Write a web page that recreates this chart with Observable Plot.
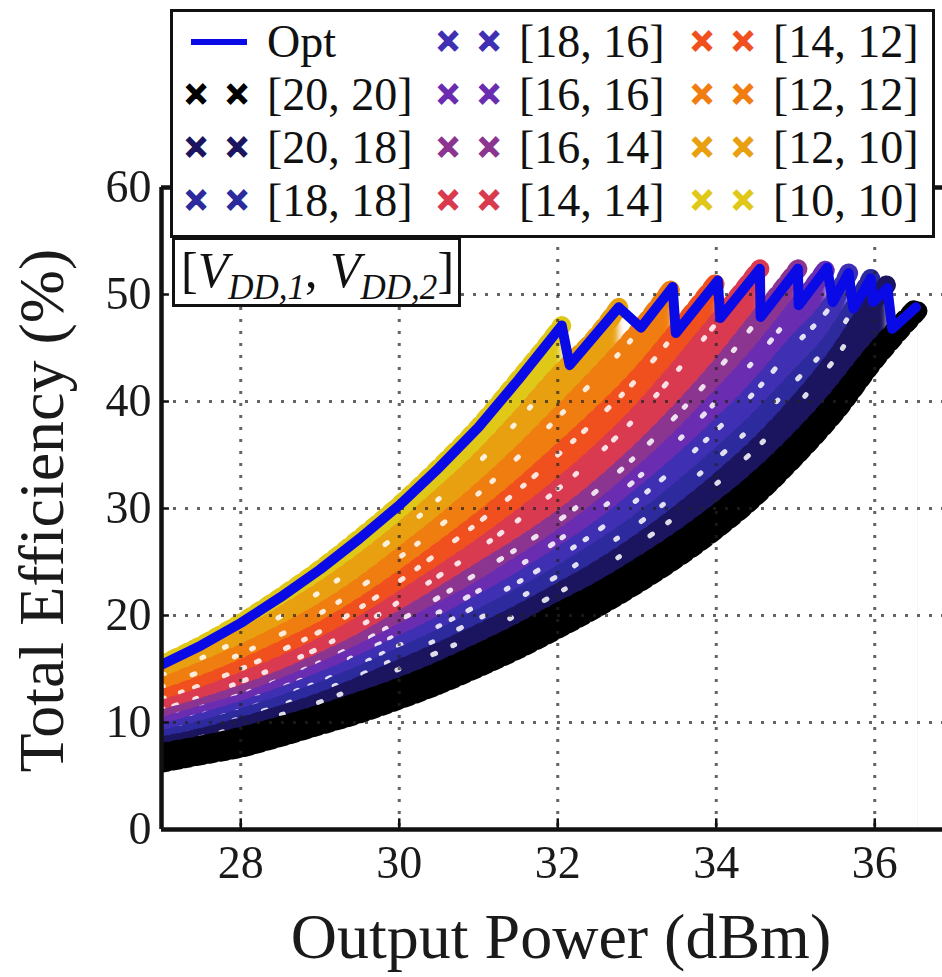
<!DOCTYPE html>
<html><head><meta charset="utf-8">
<script src="https://cdn.jsdelivr.net/npm/d3@7"></script>
<script src="https://cdn.jsdelivr.net/npm/@observablehq/plot@0.6"></script>
<style>
html,body{margin:0;padding:0;background:#fff}
#wrap{position:relative;width:942px;height:977px;overflow:hidden;filter:blur(0.6px);font-family:"Liberation Serif",serif;color:#111}
#legend{position:absolute;left:170px;top:9px;width:765px;height:229px;box-sizing:border-box;border:3.5px solid #111;background:#fff;
 display:grid;grid-auto-flow:column;grid-template-rows:repeat(4,53px);grid-template-columns:252px 254px 1fr;padding:3px 0 0 12px;font-size:46px;line-height:53px}
.cell{display:flex;align-items:center;white-space:nowrap}
.hd{width:82px;flex:none;display:flex;align-items:center;gap:19px;font:bold 38px "Liberation Sans",sans-serif;-webkit-text-stroke:1.6px currentColor}
.hd i{font-style:normal;width:22px;text-align:center;display:block}
.ln{display:block;width:56px;height:6px;background:#0a0ae6;margin-left:6px}
#vdd{position:absolute;left:172px;top:237px;width:289px;height:70px;box-sizing:border-box;border:3.5px solid #111;background:#fff;font-size:50px;line-height:60px;padding-left:6px;white-space:nowrap}
#vdd em sub{font-size:35px;line-height:0;vertical-align:-12px}
.band{filter:blur(3px)}
</style></head><body><div id="wrap"></div>
<script>
const xGrid = [27,27.5,28,28.5,29,29.5,30,30.5,31,31.5,32,32.5,33,33.5,34,34.5,35,35.5,36];
const names  = ["[20, 20]","[20, 18]","[18, 18]","[18, 16]","[16, 16]","[16, 14]","[14, 14]","[14, 12]","[12, 12]","[12, 10]","[10, 10]"];
const colors = ["#000000","#1b1560","#2c2a9c","#3f2fb2","#6a2cb0","#8c3590","#d93a50","#f0501e","#f07d10","#e8a010","#e0c818"];
const y2020 = [7.2,7.9,8.7,9.7,10.8,12,13.3,14.8,16.5,18.3,20.3,22.2,24.4,26.8,29.5,32.5,36,40,44.6,48.8];
const y2018 = [7.8,8.6,9.6,10.7,11.9,13.4,15,16.6,18.3,20.1,22.1,24.2,26.6,29.3,32.3,35.6,39.5,44,49.5,51];
const y1818 = [8.4,9.3,10.4,11.6,12.9,14.4,16.1,17.8,19.7,21.6,23.7,26,28.5,31.4,34.6,38,41.9,46,51.5];
const y1816 = [9,10,11.1,12.4,13.8,15.4,17.2,19,21,23.1,25.4,27.9,30.8,33.9,37.3,41,45.3,49.6,52];
const y1616 = [9.6,10.7,11.8,13.2,14.7,16.4,18.3,20.3,22.3,24.6,27,29.7,32.8,36.2,40,44,48.6,52.5];
const y1614 = [10.3,11.4,12.6,14,15.6,17.4,19.5,21.7,24,26.3,28.8,31.7,35,38.7,42.8,47.4,52.4];
const y1414 = [11.2,12.4,13.8,15.3,17,19,21.3,23.7,26.2,28.9,31.8,35,38.6,42.8,47.3,52.4];
const y1412 = [12.2,13.5,15,16.7,18.5,20.7,23.2,25.9,28.7,31.7,35,38.4,42.1,46.5,51.3];
const y1212 = [13.3,14.8,16.4,18.2,20.2,22.6,25.4,28.3,31.4,34.8,38.5,42.3,46.4,50.7];
const y1210 = [14.4,16,17.8,19.9,22.2,24.8,27.7,30.9,34.3,38.2,42.4,46.2,48.8];
const y1010 = [15.4,17.2,19.3,21.7,24.3,27.2,30.3,33.8,37.6,42,46.6,47.1];
const yLower = [6.2,6.9,7.6,8.6,9.7,10.8,12.1,13.5,15.1,16.8,18.7,20.7,22.9,25.3,28,31.1,34.8,38.9,43.8,48.5];
const seriesY = [y2020,y2018,y1818,y1816,y1616,y1614,y1414,y1412,y1212,y1210,y1010];
const tipX = [36.52,36.16,35.95,35.67,35.4,35.03,34.55,34.02,33.45,32.77,32.05];
const lowerTipX = 36.55;
const optX = [27,27.5,28,28.5,29,29.5,30,30.5,31,31.5,32.05,32.15,32.77,33.05,33.45,33.49,34.02,34.05,34.55,34.56,35.03,35.04,35.4,35.47,35.67,35.73,35.95,35.98,36.16,36.22,36.52];
const optY = [15.4,17.2,19.3,21.7,24.3,27.2,30.3,33.8,37.6,42,47.1,43.4,48.8,46.9,50.7,46.4,51.3,47.8,52.4,47.9,52.4,49,52.5,49.3,52,48.7,51.5,49.3,50.6,46.8,48.8];
const xTicks = [28,30,32,34,36];
const yTicks = [0,10,20,30,40,50,60];
const gridY = [10,20,30,40,50];
const xLabel = "Output Power (dBm)";
const yLabel = "Total Efficiency (%)";
const speckle = ["2 37 3 19 2 61","3 23 2 47 2 29","2 17 3 41 2 13","2 29 3 11 2 53","3 13 2 23 3 31","2 11 3 19 2 37","3 17 2 13 3 29","2 31 3 43 2 17","3 41 2 23 2 59"];

const rows = (ys, tip) => ys.map((y,i)=>({x: i===ys.length-1 ? tip : xGrid[i], y}));
const font = "Liberation Serif";
const marks = [];
const teeth = {x:"x",y:"y",curve:"monotone-x",clip:true,strokeDasharray:"6 6"};
for (let k = seriesY.length-1; k >= 0; k--) {
  const d = rows(seriesY[k], tipX[k]);
  marks.push(Plot.areaY(d,{x:"x",y:"y",curve:"monotone-x",fill:colors[k],clip:true,className:"band"}));
  marks.push(Plot.line(d,{...teeth,stroke:colors[k],strokeWidth:19}));
  if (k < seriesY.length-1 && k > 0)
    marks.push(Plot.line(d,{x:"x",y:"y",curve:"monotone-x",clip:true,stroke:"#fff",strokeOpacity:0.85,strokeWidth:5,strokeDasharray:speckle[k-1]}));
}
const low = rows(yLower, lowerTipX);
marks.push(Plot.areaY(low,{x:"x",y:"y",curve:"monotone-x",fill:"#fff",clip:true}));
marks.push(Plot.rect([{x1:lowerTipX,x2:36.855,y1:0,y2:yLower[yLower.length-1]}],{x1:"x1",x2:"x2",y1:"y1",y2:"y2",fill:"#fff"}));
marks.push(Plot.line(low,{...teeth,stroke:colors[0],strokeWidth:19}));
marks.push(Plot.ruleX(xTicks,{stroke:"#222",strokeOpacity:0.7,strokeWidth:3,strokeDasharray:"3 9"}));
marks.push(Plot.ruleY(gridY,{stroke:"#222",strokeOpacity:0.7,strokeWidth:3,strokeDasharray:"3 9"}));
marks.push(Plot.line(optX.map((x,i)=>({x,y:optY[i]})),{x:"x",y:"y",stroke:"#0a0ae6",strokeWidth:10,strokeLinejoin:"round",clip:true}));
marks.push(Plot.ruleX(xTicks,{y1:0,y2:1,stroke:"#111",strokeWidth:2.5}));
marks.push(Plot.ruleY(yTicks,{x1:27,x2:27.1,stroke:"#111",strokeWidth:2.5}));
marks.push(Plot.ruleX([27],{stroke:"#111",strokeWidth:4.5}));
marks.push(Plot.ruleY([0,60],{stroke:"#111",strokeWidth:4.5}));
marks.push(Plot.axisX({ticks:xTicks,tickSize:0,tickPadding:16,fontSize:46,fontFamily:font,label:null,fill:"#1a1a1a"}));
marks.push(Plot.axisY({ticks:yTicks,tickSize:0,tickPadding:10,fontSize:46,fontFamily:font,label:null,fill:"#1a1a1a"}));
marks.push(Plot.text([xLabel],{frameAnchor:"bottom",dx:9,dy:128,fontSize:64,fontFamily:font,fill:"#1a1a1a"}));
marks.push(Plot.text([yLabel],{frameAnchor:"left",textAnchor:"middle",rotate:-90,dx:-119,dy:2,fontSize:64,fontFamily:font,fill:"#1a1a1a"}));

const chart = Plot.plot({
  width:942,height:977,marginLeft:161,marginRight:0,marginTop:187,marginBottom:148,
  style:{background:"transparent",overflow:"visible"},
  x:{domain:[27,36.855]},y:{domain:[0,60]},
  marks
});
const wrap = document.getElementById("wrap");
wrap.appendChild(chart);

const leg = document.createElement("div"); leg.id="legend";
const entries = [{name:"Opt",line:true}].concat(names.map((n,i)=>({name:n,color:colors[i]})));
for (const e of entries) {
  const c=document.createElement("div"); c.className="cell";
  const h=document.createElement("span"); h.className="hd";
  if(e.line){const l=document.createElement("b");l.className="ln";h.appendChild(l);}
  else for(let j=0;j<2;j++){const i=document.createElement("i");i.textContent="×";i.style.color=e.color;h.appendChild(i);}
  const t=document.createElement("span"); t.textContent=e.name;
  c.append(h,t); leg.appendChild(c);
}
wrap.appendChild(leg);
const v=document.createElement("div"); v.id="vdd";
v.innerHTML="[<em>V<sub>DD,1</sub></em>, <em>V<sub>DD,2</sub></em>]";
wrap.appendChild(v);
</script></body></html>
